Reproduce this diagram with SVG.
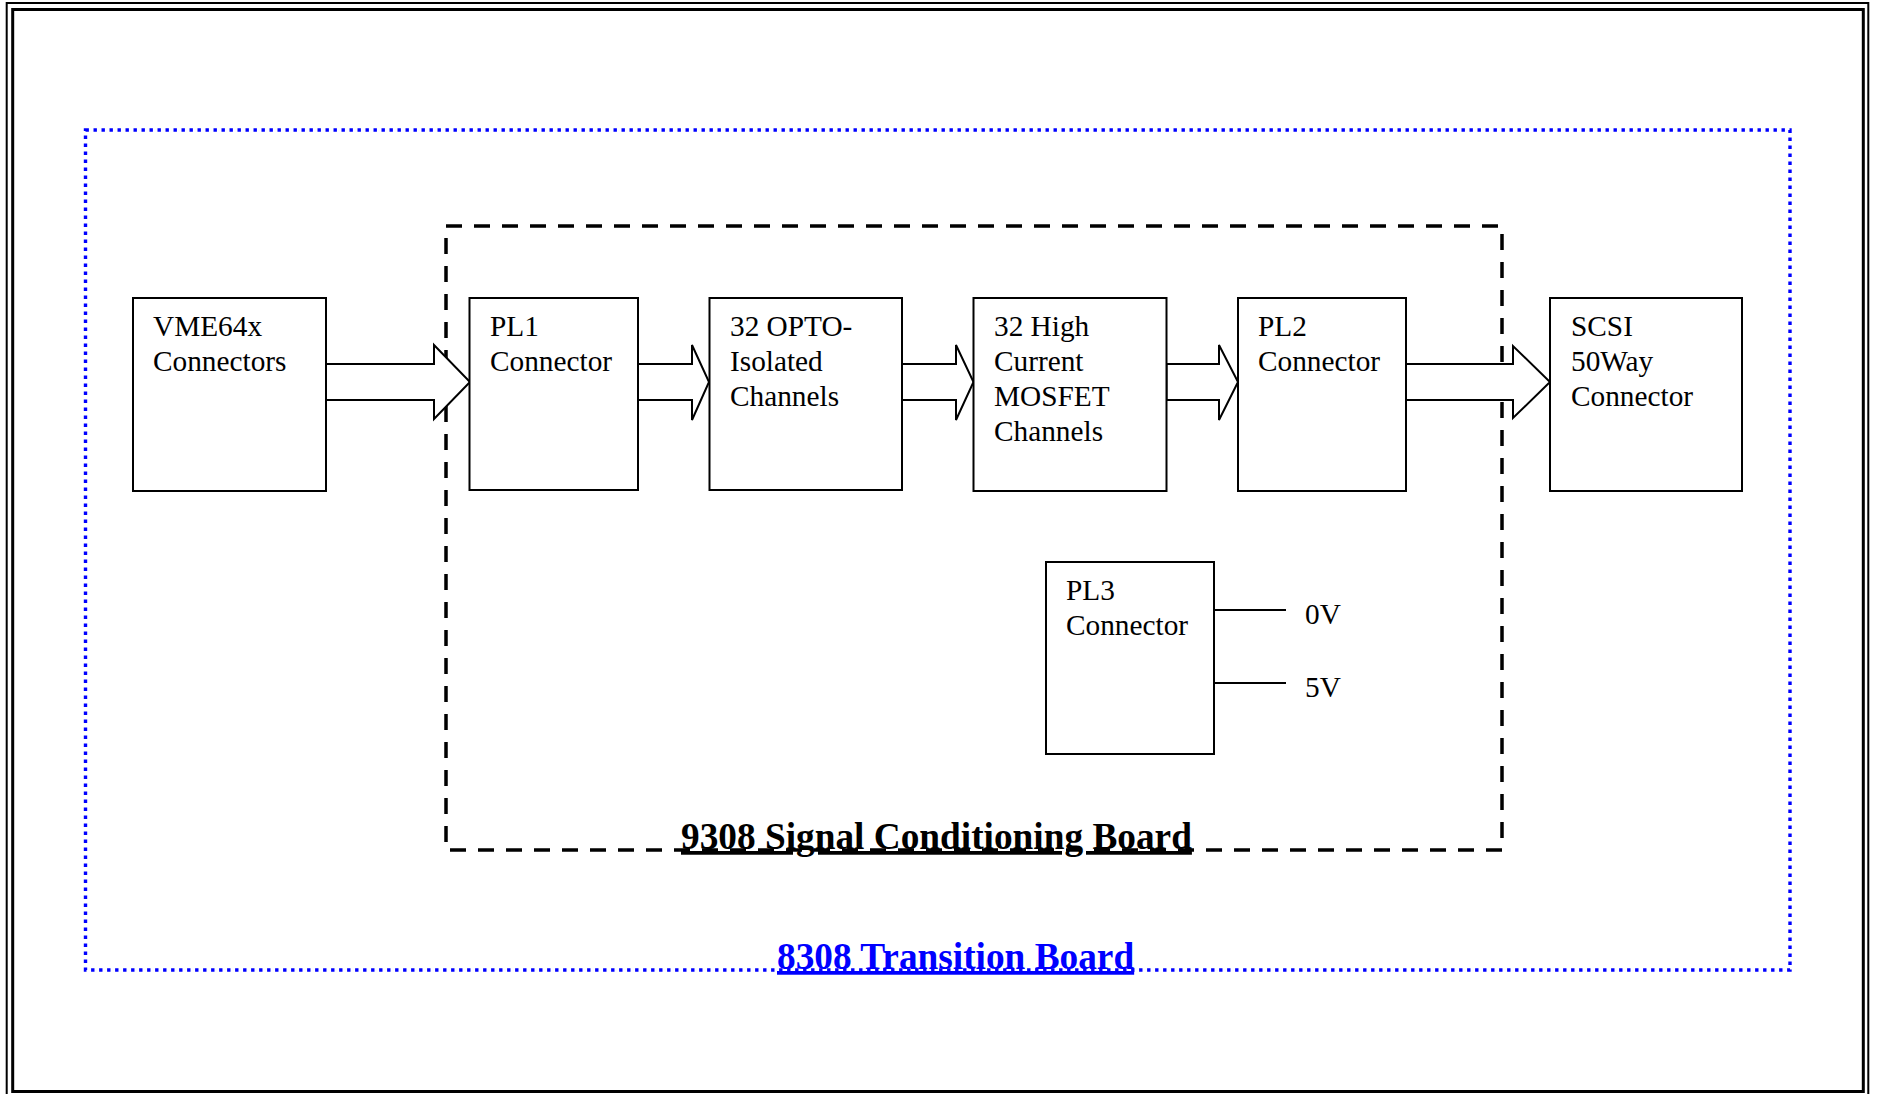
<svg xmlns="http://www.w3.org/2000/svg" width="1877" height="1094" viewBox="0 0 1877 1094">
<style>
.box{fill:#fff;stroke:#000;stroke-width:2}
.t{font-family:"Liberation Serif","Times New Roman",serif;font-size:29.3px;fill:#000}
.lbl{font-family:"Liberation Serif","Times New Roman",serif;font-size:37.3px;font-weight:bold;text-decoration:underline}
.arr{fill:#fff;stroke:#000;stroke-width:2;stroke-linejoin:miter}
.wire{stroke:#000;stroke-width:2;fill:none}
</style>
<rect width="1877" height="1094" fill="#fff"/>
<g id="frame">
<rect x="6.7" y="3" width="1861.6" height="1094" fill="none" stroke="#000" stroke-width="2"/>
<rect x="12.7" y="9.5" width="1850.6" height="1082" fill="none" stroke="#000" stroke-width="3"/>
</g>
<g id="transition-board">
<rect x="85.5" y="130" width="1704.5" height="840" fill="none" stroke="#0000ff" stroke-width="3.4" stroke-dasharray="3.4 4.6"/>
<text class="lbl" x="777" y="969" fill="#0000ff">8308 Transition Board</text>
</g>
<g id="signal-board">
<rect x="446" y="226" width="1056" height="624" fill="none" stroke="#000" stroke-width="3.5" stroke-dasharray="16 12"/>
<text class="lbl" x="681" y="849" fill="#000">9308 Signal Conditioning Board</text>
</g>
<g id="connectors">
<polygon class="arr" points="326,364 434,364 434,345 470,382 434,419 434,400 326,400"/>
<polygon class="arr" points="638,364 692,364 692,345 709,382 692,420 692,400 638,400"/>
<polygon class="arr" points="902,364 956,364 956,345 973.5,382 956,420 956,400 902,400"/>
<polygon class="arr" points="1166.5,364 1219,364 1219,345 1238,382 1219,420 1219,400 1166.5,400"/>
<polygon class="arr" points="1406,364 1513,364 1513,346 1550,382 1513,418 1513,400 1406,400"/>
<line class="wire" x1="1214" y1="610" x2="1286" y2="610"/>
<line class="wire" x1="1214" y1="683" x2="1286" y2="683"/>
</g>
<g id="vme">
<rect class="box" x="133" y="298" width="193" height="193"/>
<text class="t" x="153" y="336">VME64x</text>
<text class="t" x="153" y="371">Connectors</text>
</g>
<g id="pl1">
<rect class="box" x="469.5" y="298" width="168.5" height="192"/>
<text class="t" x="490" y="336">PL1</text>
<text class="t" x="490" y="371">Connector</text>
</g>
<g id="opto">
<rect class="box" x="709.5" y="298" width="192.5" height="192"/>
<text class="t" x="730" y="336">32 OPTO-</text>
<text class="t" x="730" y="371">Isolated</text>
<text class="t" x="730" y="406">Channels</text>
</g>
<g id="mosfet">
<rect class="box" x="973.5" y="298" width="193" height="193"/>
<text class="t" x="994" y="336">32 High</text>
<text class="t" x="994" y="371">Current</text>
<text class="t" x="994" y="406">MOSFET</text>
<text class="t" x="994" y="441">Channels</text>
</g>
<g id="pl2">
<rect class="box" x="1238" y="298" width="168" height="193"/>
<text class="t" x="1258" y="336">PL2</text>
<text class="t" x="1258" y="371">Connector</text>
</g>
<g id="scsi">
<rect class="box" x="1550" y="298" width="192" height="193"/>
<text class="t" x="1571" y="336">SCSI</text>
<text class="t" x="1571" y="371">50Way</text>
<text class="t" x="1571" y="406">Connector</text>
</g>
<g id="pl3">
<rect class="box" x="1046" y="562" width="168" height="192"/>
<text class="t" x="1066" y="600">PL3</text>
<text class="t" x="1066" y="635">Connector</text>
</g>
<g id="rails">
<text class="t" x="1305" y="624">0V</text>
<text class="t" x="1305" y="697">5V</text>
</g>
</svg>
